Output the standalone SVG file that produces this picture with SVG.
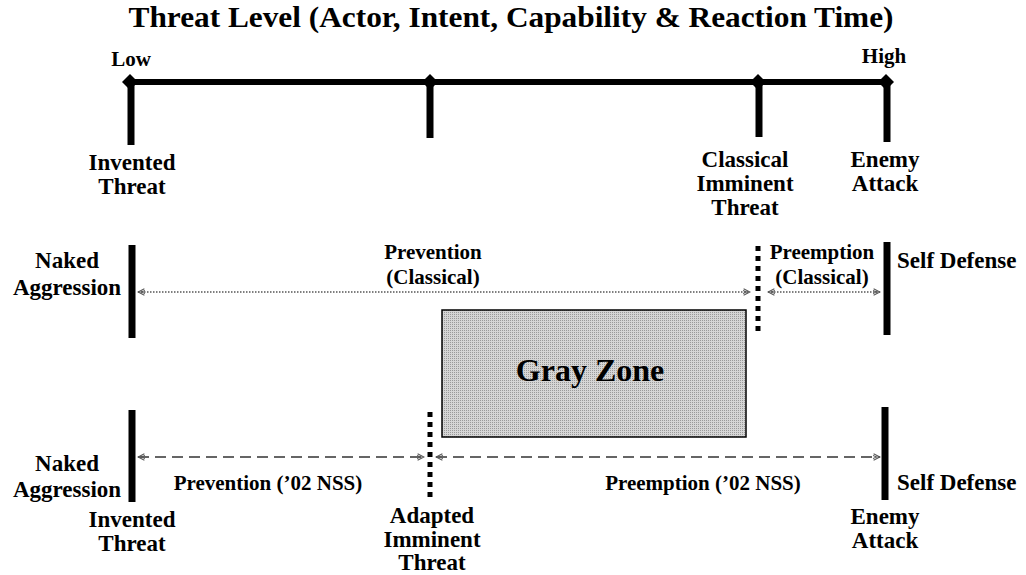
<svg xmlns="http://www.w3.org/2000/svg" width="1026" height="575" viewBox="0 0 1026 575">
<defs>
<style>
text{font-family:"Liberation Serif","Times New Roman",serif;font-weight:bold;fill:#000}
.t{font-size:23px;text-anchor:middle}
.a{font-size:21px;text-anchor:middle}
.bar{stroke:#000;stroke-width:7;fill:none}
.sq{stroke:#000;stroke-width:5;stroke-dasharray:5 5;fill:none}
.dot{stroke:#555;stroke-width:1.3;stroke-dasharray:1.5 1.5;fill:none}
.dash{stroke:#333;stroke-width:1.6;stroke-dasharray:11 6;fill:none}
</style>
<marker id="ae" viewBox="0 0 10 10" refX="9" refY="5" markerWidth="8" markerHeight="8" markerUnits="userSpaceOnUse" orient="auto">
<path d="M1,1 L9,5 L1,9 M0,3 L5,5 L0,7" fill="none" stroke="#555" stroke-width="1.3"/>
</marker>
<marker id="as" viewBox="0 0 10 10" refX="1" refY="5" markerWidth="8" markerHeight="8" markerUnits="userSpaceOnUse" orient="auto">
<path d="M9,1 L1,5 L9,9 M10,3 L5,5 L10,7" fill="none" stroke="#555" stroke-width="1.3"/>
</marker>
<pattern id="stip" width="2" height="2" patternUnits="userSpaceOnUse">
<rect width="2" height="2" fill="#d6d6d6"/>
<rect width="1" height="1" fill="#9a9a9a"/>
</pattern>
</defs>
<rect width="1026" height="575" fill="#fff"/>
<text x="511" y="27" style="font-size:30px" text-anchor="middle" textLength="765" lengthAdjust="spacingAndGlyphs">Threat Level (Actor, Intent, Capability &amp; Reaction Time)</text>

<g id="scale">
<line x1="128" y1="82" x2="890" y2="82" stroke="#000" stroke-width="6"/>
<text x="131" y="66" class="t" style="font-size:21px">Low</text>
<text x="884" y="63" class="t" style="font-size:21px">High</text>
</g>

<g id="tick-invented">
<polygon points="130,74 138,82 130,90 122,82" fill="#000"/>
<line class="bar" x1="131" y1="82" x2="131" y2="145"/>
<text class="t" x="132" y="170">Invented</text>
<text class="t" x="132" y="194">Threat</text>
</g>
<g id="tick-mid">
<polygon points="430,74 438,82 430,90 422,82" fill="#000"/>
<line class="bar" x1="430" y1="82" x2="430" y2="138"/>
</g>
<g id="tick-classical">
<polygon points="758,74 766,82 758,90 750,82" fill="#000"/>
<line class="bar" x1="759" y1="82" x2="759" y2="137"/>
<text class="t" x="745" y="167">Classical</text>
<text class="t" x="745" y="191">Imminent</text>
<text class="t" x="745" y="215">Threat</text>
</g>
<g id="tick-enemy">
<polygon points="886,74 894,82 886,90 878,82" fill="#000"/>
<line class="bar" x1="887" y1="82" x2="887" y2="142"/>
<text class="t" x="885" y="167">Enemy</text>
<text class="t" x="885" y="191">Attack</text>
</g>

<g id="mid-left">
<line class="bar" x1="132" y1="245" x2="132" y2="338"/>
<text class="t" x="67" y="268">Naked</text>
<text class="t" x="67" y="295">Aggression</text>
</g>
<g id="mid-classical">
<line class="sq" x1="758" y1="246" x2="758" y2="332"/>
</g>
<g id="mid-right">
<line class="bar" x1="887" y1="242" x2="887" y2="335"/>
<text class="t" x="897" y="268" style="text-anchor:start">Self Defense</text>
</g>

<g id="grayzone">
<rect x="442" y="310" width="304" height="127" fill="url(#stip)" stroke="#000" stroke-width="1.5"/>
<text x="590" y="381" text-anchor="middle" style="font-size:32px">Gray Zone</text>
</g>

<g id="bot-left">
<line class="bar" x1="132" y1="410" x2="132" y2="502"/>
<text class="t" x="67" y="471">Naked</text>
<text class="t" x="67" y="497">Aggression</text>
<text class="t" x="132" y="527">Invented</text>
<text class="t" x="132" y="551">Threat</text>
</g>
<g id="bot-adapted">
<line class="sq" x1="430" y1="412" x2="430" y2="500"/>
<text class="t" x="432" y="523">Adapted</text>
<text class="t" x="432" y="547">Imminent</text>
<text class="t" x="432" y="570">Threat</text>
</g>
<g id="bot-right">
<line class="bar" x1="885" y1="407" x2="885" y2="500"/>
<text class="t" x="897" y="490" style="text-anchor:start">Self Defense</text>
<text class="t" x="885" y="524">Enemy</text>
<text class="t" x="885" y="548">Attack</text>
</g>

<g id="connectors">
<line class="dot" x1="138" y1="292" x2="750" y2="292" marker-start="url(#as)" marker-end="url(#ae)"/>
<line class="dot" x1="768" y1="292" x2="880" y2="292" marker-start="url(#as)" marker-end="url(#ae)"/>
<line class="dash" x1="138" y1="457" x2="424" y2="457" marker-start="url(#as)" marker-end="url(#ae)"/>
<line class="dash" x1="436" y1="457" x2="880" y2="457" marker-start="url(#as)" marker-end="url(#ae)"/>
<text class="a" x="433" y="259">Prevention</text>
<text class="a" x="433" y="284">(Classical)</text>
<text class="a" x="822" y="259">Preemption</text>
<text class="a" x="822" y="284">(Classical)</text>
<text class="a" x="268" y="490">Prevention (’02 NSS)</text>
<text class="a" x="703" y="490">Preemption (’02 NSS)</text>
</g>
</svg>
